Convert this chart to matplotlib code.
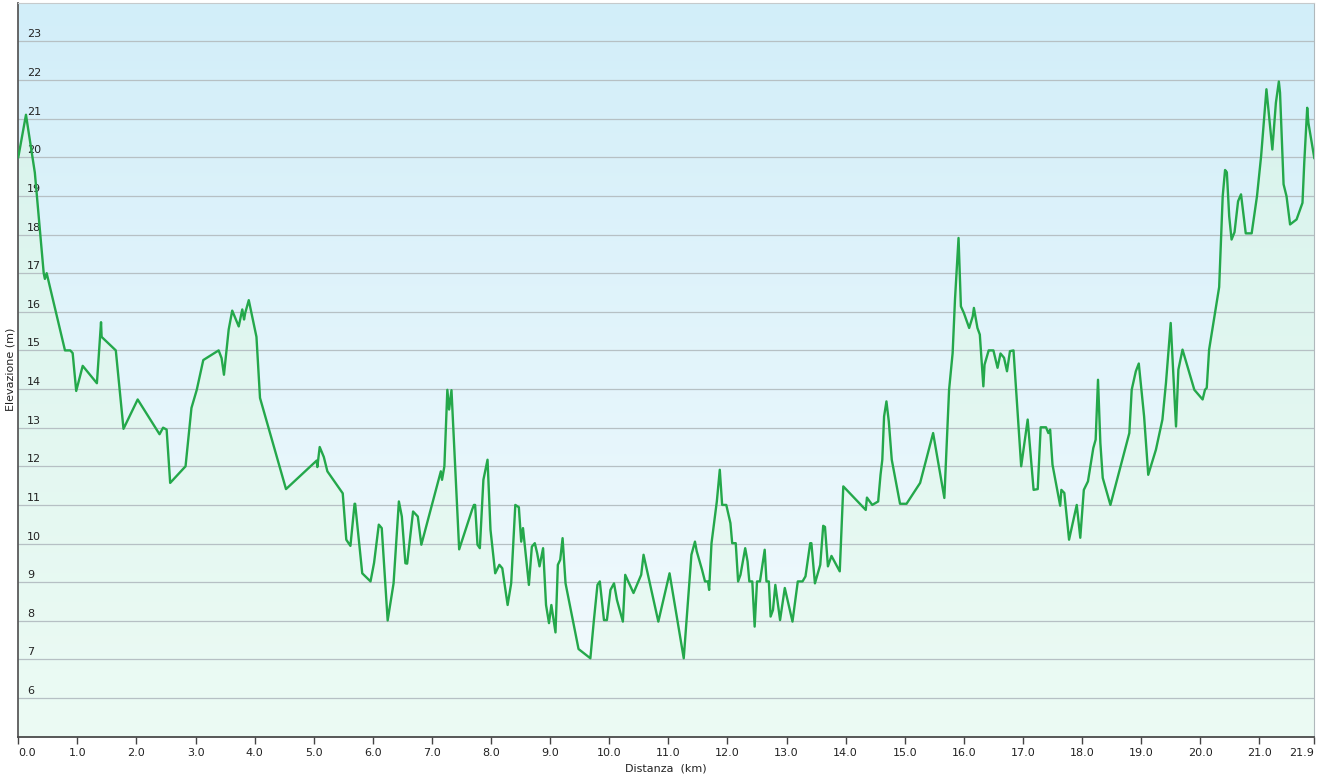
import numpy as np
import matplotlib.pyplot as plt
from matplotlib.colors import to_rgb
from matplotlib.transforms import ScaledTranslation

# profilo altimetrico: distanza (km) / elevazione (m)
km = [0.00, 0.13, 0.28, 0.43, 0.45, 0.48, 0.79, 0.88, 0.92, 0.98, 1.09, 1.33, 1.40, 1.41, 1.65,
      1.78, 2.02, 2.39, 2.45, 2.51, 2.57, 2.83, 2.93, 3.02, 3.13, 3.39, 3.44, 3.48, 3.56, 3.62,
      3.73, 3.79, 3.82, 3.84, 3.90, 4.03, 4.09, 4.53, 5.05, 5.06, 5.10, 5.17, 5.23, 5.49, 5.55,
      5.62, 5.69, 5.70, 5.82, 5.96, 6.02, 6.10, 6.15, 6.25, 6.35, 6.44, 6.49, 6.55, 6.58, 6.68,
      6.76, 6.82, 7.15, 7.17, 7.21, 7.26, 7.29, 7.33, 7.46, 7.68, 7.71, 7.73, 7.77, 7.81, 7.87,
      7.94, 7.99, 8.07, 8.14, 8.19, 8.28, 8.34, 8.41, 8.47, 8.51, 8.54, 8.64, 8.69, 8.74, 8.78,
      8.82, 8.88, 8.93, 8.98, 9.02, 9.09, 9.13, 9.17, 9.21, 9.26, 9.48, 9.68, 9.74, 9.80, 9.84,
      9.91, 9.96, 10.02, 10.08, 10.13, 10.23, 10.27, 10.41, 10.54, 10.58, 10.83, 11.02, 11.26,
      11.39, 11.45, 11.48, 11.57, 11.62, 11.67, 11.69, 11.73, 11.82, 11.87, 11.91, 11.98, 12.05,
      12.08, 12.14, 12.18, 12.22, 12.30, 12.34, 12.37, 12.42, 12.46, 12.50, 12.55, 12.63, 12.66,
      12.70, 12.73, 12.77, 12.81, 12.89, 12.97, 13.10, 13.19, 13.27, 13.32, 13.40, 13.42, 13.48,
      13.57, 13.62, 13.65, 13.70, 13.76, 13.90, 13.96, 14.34, 14.36, 14.45, 14.55, 14.59, 14.62,
      14.65, 14.69, 14.73, 14.78, 14.92, 15.03, 15.26, 15.48, 15.67, 15.75, 15.81, 15.85, 15.91,
      15.95, 16.00, 16.03, 16.09, 16.15, 16.17, 16.23, 16.27, 16.33, 16.35, 16.42, 16.50, 16.57,
      16.62, 16.68, 16.73, 16.78, 16.84, 16.97, 17.08, 17.18, 17.25, 17.30, 17.39, 17.43, 17.46,
      17.50, 17.63, 17.65, 17.70, 17.78, 17.91, 17.97, 18.03, 18.10, 18.19, 18.23, 18.27, 18.31,
      18.35, 18.48, 18.80, 18.84, 18.91, 18.96, 19.05, 19.12, 19.25, 19.36, 19.42, 19.50, 19.59,
      19.63, 19.70, 19.90, 20.04, 20.08, 20.11, 20.15, 20.24, 20.32, 20.38, 20.42, 20.45, 20.49,
      20.53, 20.58, 20.64, 20.69, 20.77, 20.87, 20.96, 21.03, 21.12, 21.22, 21.28, 21.33, 21.35,
      21.41, 21.46, 21.52, 21.63, 21.73, 21.76, 21.81, 21.83, 21.93]
elev = [20.0, 21.1, 19.6, 17.0, 16.85, 17.0, 15.0, 15.0, 14.93, 13.95, 14.6, 14.15, 15.73, 15.35, 15.0,
        12.97, 13.73, 12.83, 13.0, 12.95, 11.57, 12.0, 13.51, 13.98, 14.75, 15.0, 14.8, 14.37, 15.54, 16.03,
        15.62, 16.06, 15.8, 15.97, 16.3, 15.35, 13.77, 11.41, 12.15, 11.98, 12.5, 12.24, 11.87, 11.3, 10.1,
        9.94, 11.03, 11.03, 9.23, 9.02, 9.5, 10.49, 10.4, 8.01, 8.97, 11.09, 10.7, 9.49, 9.48, 10.83,
        10.7, 9.97, 11.87, 11.65, 12.0, 13.98, 13.47, 13.97, 9.85, 10.88, 11.0, 11.0, 9.97, 9.88, 11.65,
        12.17, 10.36, 9.23, 9.45, 9.36, 8.41, 8.97, 11.0, 10.94, 10.05, 10.4, 8.93, 9.92, 10.01, 9.75,
        9.41, 9.88, 8.41, 7.94, 8.41, 7.7, 9.45, 9.58, 10.14, 8.97, 7.27, 7.03, 8.02, 8.93, 9.02,
        8.02, 8.02, 8.8, 8.97, 8.54, 7.98, 9.19, 8.72, 9.19, 9.71, 7.98, 9.23, 7.03,
        9.71, 10.05, 9.8, 9.32, 9.02, 9.02, 8.8, 10.01, 11.09, 11.91, 11.0, 11.0, 10.53,
        10.01, 10.01, 9.02, 9.19, 9.88, 9.54, 9.02, 9.02, 7.85, 9.02, 9.02, 9.84, 9.02,
        9.02, 8.11, 8.28, 8.93, 8.02, 8.85, 7.98, 9.02, 9.02, 9.15, 10.01, 10.01, 8.97,
        9.45, 10.46, 10.43, 9.41, 9.68, 9.28, 11.48, 10.87, 11.19, 11.0, 11.09, 11.78, 12.17,
        13.29, 13.68, 13.16, 12.17, 11.03, 11.03, 11.57, 12.86, 11.18, 13.98, 14.93, 16.32, 17.91,
        16.14, 15.97, 15.84, 15.58, 15.88, 16.1, 15.58, 15.41, 14.07, 14.63, 15.0, 15.0, 14.55,
        14.92, 14.81, 14.46, 14.98, 15.0, 12.0, 13.21, 11.39, 11.41, 13.01, 13.01, 12.86, 12.95,
        12.04, 10.98, 11.39, 11.31, 10.1, 11.0, 10.15, 11.39, 11.61, 12.47, 12.69, 14.24, 12.6,
        11.7, 11.0, 12.86, 13.98, 14.46, 14.66, 13.29, 11.78, 12.43, 13.21, 14.16, 15.71, 13.03,
        14.5, 15.02, 13.98, 13.73, 13.98, 14.03, 15.02, 15.88, 16.64, 18.99, 19.67, 19.61, 18.47,
        17.87, 18.06, 18.86, 19.04, 18.03, 18.03, 18.99, 20.03, 21.76, 20.2, 21.41, 21.96, 21.67,
        19.3, 18.99, 18.26, 18.39, 18.82, 19.86, 21.28, 20.89, 19.98]

x_ticks = list(range(0, 22)) + [21.93]
x_labels = ["%.1f" % v for v in x_ticks]
y_ticks = list(range(6, 24))
y_min, y_max = 5, 24
x_max = 21.93


def gradient(top, bottom, n=256):
    t = np.linspace(0, 1, n)[:, None]
    g = (1 - t) * np.array(to_rgb(top)) + t * np.array(to_rgb(bottom))
    return g[:, None, :]


fig = plt.figure(figsize=(13.19, 7.81), dpi=100)
ax = fig.add_axes([0.01387, 0.0567, 0.98257, 0.93982])

# sfondo sfumato
ax.imshow(gradient('#d2eef9', '#f4fbfd'), extent=[0, x_max, y_min, y_max],
          aspect='auto', origin='upper', zorder=0)

# area sotto il profilo
area = ax.fill_between(km, elev, y_min, facecolor='none', edgecolor='none')
im = ax.imshow(gradient('#d6f2ec', '#ecfbf4'), extent=[0, x_max, y_min, y_max],
               aspect='auto', origin='upper', zorder=0.5)
im.set_clip_path(area.get_paths()[0], transform=ax.transData)

ax.plot(km, elev, color='#24a84b', lw=1.7, zorder=3)

ax.set_xlim(0, x_max)
ax.set_ylim(y_min, y_max)

ax.set_yticks(y_ticks)
ax.set_yticklabels([str(v) for v in y_ticks])
ax.grid(axis='y', color='#b6c0c4', lw=0.9)
ax.set_axisbelow('line')
ax.tick_params(axis='y', length=0, pad=0, labelsize=8, labelcolor='#222222')
for lab in ax.get_yticklabels():
    lab.set_horizontalalignment('left')
    lab.set_transform(lab.get_transform() + ScaledTranslation(0.085, 0.08, fig.dpi_scale_trans))

ax.set_xticks(x_ticks)
ax.set_xticklabels(x_labels)
ax.tick_params(axis='x', direction='out', length=5, width=1, color='#444444',
               labelsize=8, labelcolor='#222222', pad=3)
xl = ax.get_xticklabels()
xl[0].set_horizontalalignment('left')
xl[-1].set_horizontalalignment('right')

ax.spines['left'].set_color('#5a5a5a')
ax.spines['left'].set_linewidth(1.3)
ax.spines['bottom'].set_color('#4a4a4a')
ax.spines['bottom'].set_linewidth(1.3)
ax.spines['top'].set_color('#c6cacc')
ax.spines['right'].set_color('#b0b8bc')

ax.set_xlabel('Distanza  (km)', fontsize=8, color='#222222')
ax.xaxis.set_label_coords(0.5, -0.037)
ax.set_ylabel('Elevazione (m)', fontsize=8, color='#222222')
ax.yaxis.set_label_coords(-0.002, 0.5)

fig.savefig('out.png', dpi=100)
